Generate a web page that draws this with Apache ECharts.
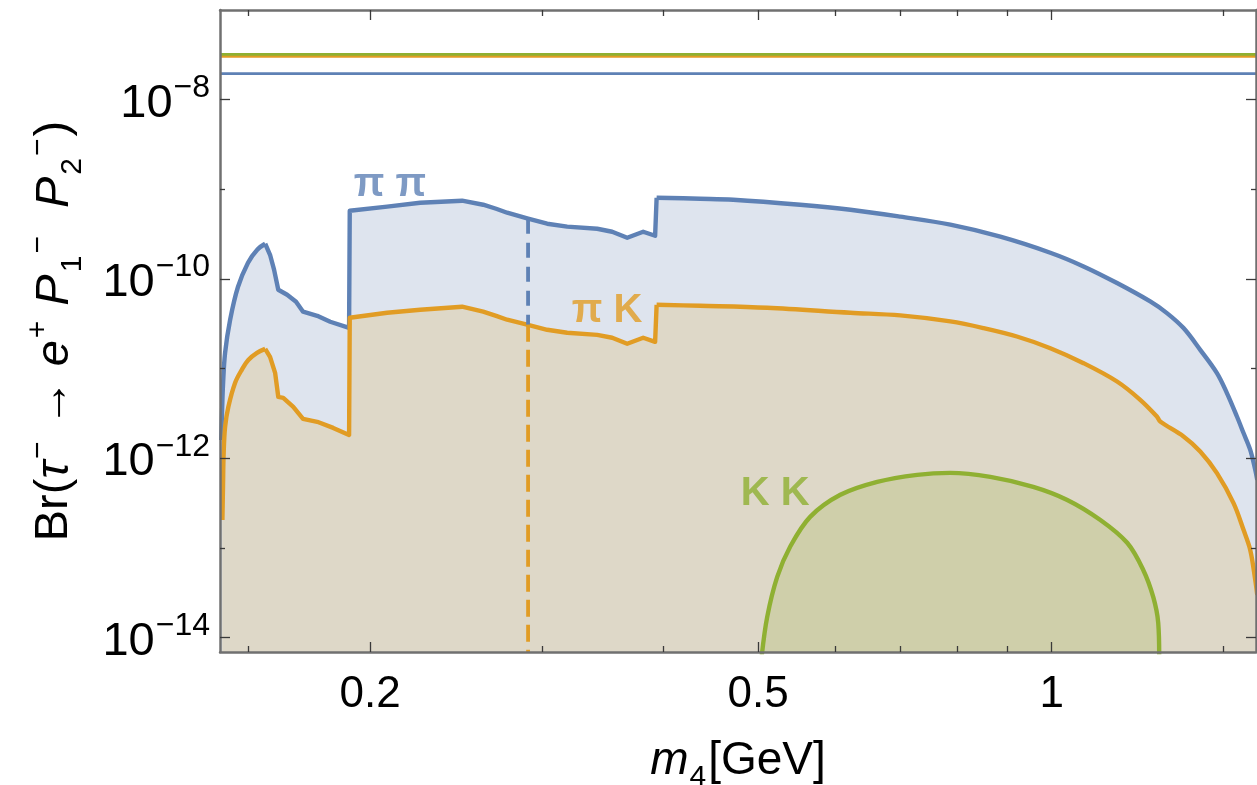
<!DOCTYPE html>
<html>
<head>
<meta charset="utf-8">
<script src="https://cdn.jsdelivr.net/npm/echarts@6/dist/echarts.min.js"></script>
<style>
  html, body { margin: 0; padding: 0; background: #ffffff; }
  #chart { width: 1257px; height: 785px; }
</style>
</head>
<body>
<div id="chart"></div>
<script>
// Branching ratio of tau- -> e+ P1- P2- versus the heavy neutrino mass m4 (GeV)

// pi pi channel
const piPiMass = [0.1407, 0.1410, 0.1413, 0.1420, 0.1437, 0.1464, 0.1499, 0.1532, 0.1561, 0.1579,
  0.1594, 0.1610, 0.1644, 0.1679, 0.1707, 0.1765, 0.1820, 0.1903, 0.1906, 0.1906,
  0.2082, 0.2251, 0.2485, 0.2612, 0.2693, 0.2764, 0.2904, 0.3038, 0.3185, 0.3419,
  0.3542, 0.3670, 0.3811, 0.3920, 0.3934, 0.3934, 0.4360, 0.4714, 0.5521, 0.6216,
  0.6994, 0.7871, 0.8857, 0.9967, 1.0781, 1.1668, 1.2619, 1.3127, 1.3652, 1.4201,
  1.4773, 1.5125, 1.5487, 1.5730, 1.5981, 1.6171, 1.6248];
const piPiBr = [1.60e-12, 3.47e-12, 6.59e-12, 1.50e-11, 3.51e-11, 8.18e-11, 1.52e-10, 2.12e-10, 2.47e-10, 1.86e-10,
  1.27e-10, 7.57e-11, 6.67e-11, 5.57e-11, 4.31e-11, 3.88e-11, 3.33e-11, 2.85e-11, 2.80e-11, 5.77e-10,
  6.40e-10, 7.08e-10, 7.46e-10, 6.73e-10, 6.07e-10, 5.48e-10, 4.70e-10, 4.13e-10, 3.83e-10, 3.63e-10,
  3.36e-10, 2.88e-10, 3.36e-10, 3.03e-10, 3.00e-10, 8.05e-10, 7.85e-10, 7.66e-10, 6.73e-10, 5.92e-10,
  4.95e-10, 4.03e-10, 2.96e-10, 1.96e-10, 1.38e-10, 9.00e-11, 5.61e-11, 4.16e-11, 2.83e-11, 1.62e-11,
  8.91e-12, 5.33e-12, 2.92e-12, 1.91e-12, 1.24e-12, 7.43e-13, 5.74e-13];
// index ranges: smooth rise, kinked middle, smooth tail
const piPiPieces = [[0, 8, true], [8, 35, false], [35, 56, true]];

// pi K channel
const piKMass = [0.1411, 0.1413, 0.1415, 0.1420, 0.1431, 0.1454, 0.1477, 0.1500, 0.1531, 0.1561,
  0.1579, 0.1598, 0.1610, 0.1629, 0.1668, 0.1707, 0.1765, 0.1833, 0.1903, 0.1906,
  0.1906, 0.2082, 0.2251, 0.2485, 0.2612, 0.2693, 0.2764, 0.2904, 0.3038, 0.3185,
  0.3419, 0.3542, 0.3670, 0.3811, 0.3920, 0.3934, 0.3934, 0.4360, 0.5108, 0.6216,
  0.6994, 0.7871, 0.8515, 0.9211, 0.9967, 1.0781, 1.1668, 1.2325, 1.2820, 1.2921,
  1.3652, 1.4201, 1.4773, 1.5363, 1.5730, 1.5981, 1.6171, 1.6248];
const piKBr = [2.05e-13, 4.80e-13, 1.09e-12, 2.24e-12, 3.75e-12, 6.95e-12, 9.70e-12, 1.25e-11, 1.50e-11, 1.66e-11,
  1.35e-11, 8.97e-12, 4.84e-12, 4.72e-12, 3.75e-12, 2.75e-12, 2.55e-12, 2.18e-12, 1.82e-12, 1.80e-12,
  3.69e-11, 4.20e-11, 4.53e-11, 4.90e-11, 4.31e-11, 3.88e-11, 3.51e-11, 3.08e-11, 2.71e-11, 2.51e-11,
  2.38e-11, 2.21e-11, 1.89e-11, 2.21e-11, 1.99e-11, 1.97e-11, 5.15e-11, 5.02e-11, 4.77e-11, 4.20e-11,
  3.92e-11, 3.36e-11, 2.83e-11, 2.28e-11, 1.69e-11, 1.15e-11, 7.18e-12, 4.49e-12, 2.92e-12, 2.57e-12,
  1.75e-12, 1.19e-12, 6.82e-13, 3.16e-13, 1.59e-13, 9.50e-14, 4.40e-14, 2.99e-14];
const piKPieces = [[0, 9, true], [9, 36, false], [36, 57, true]];

// K K channel
const kkMass = [0.5040, 0.5108, 0.5230, 0.5392, 0.5653, 0.6071, 0.6623, 0.7278, 0.7871, 0.8651,
  0.9573, 1.0374, 1.1218, 1.1951, 1.2413, 1.2709, 1.2860, 1.2890];
const kkBr = [6.0e-15, 1.70e-14, 4.75e-14, 1.03e-13, 2.22e-13, 3.91e-13, 5.45e-13, 6.53e-13, 6.87e-13, 6.20e-13,
  4.80e-13, 3.43e-13, 2.05e-13, 1.14e-13, 5.68e-14, 2.84e-14, 1.46e-14, 6.0e-15];
const kkPieces = [[0, 17, true]];

// experimental upper limits: pi pi, pi K, K K
const upperLimits = [1.95e-8, 3.05e-8, 3.2e-8];

// vertical dashed marker position (GeV) and its end points on each curve
const markerMass = 0.2904;
const markerBr = [4.70e-10, 3.08e-11];

// axis ranges and tick values
const xRange = [0.1403, 1.62];
const yRange = [6.9e-15, 1e-7];
const xMajorTicks = [0.2, 0.5, 1];
const xMinorTicks = [0.15, 0.3, 0.4, 0.6, 0.7, 0.8, 0.9, 1.5];
const yMajorTicks = [1e-14, 1e-12, 1e-10, 1e-8];
const yMinorTicks = [1e-13, 1e-11, 1e-9];

// channel labels placed in data coordinates
const channelLabels = [
  { text: 'π π', at: [0.2096, 1.12e-9] },
  { text: 'π K', at: [0.3500, 4.42e-11] },
  { text: 'K K', at: [0.5206, 4.0e-13] }
];

const FONT = '"Liberation Sans", Arial, Helvetica, sans-serif';
const BLUE = '#5E81B5', ORANGE = '#E19C24', GREEN = '#8FB032';
const BLUE_FILL = '#DEE4EE', ORANGE_FILL = '#DED8C8', GREEN_FILL = '#CFCFAA';
const FRAME = '#707070', TICK = '#3a3a3a';
const CURVE_W = 4.4;

const zip = (xs, ys) => xs.map((x, i) => [x, ys[i]]);

// a filled base under the whole curve, then the outline drawn piece by piece
// (with its own fill) so smooth and kinked parts can differ without seams
function curveSeries(xs, ys, pieces, color, fill, z) {
  const pts = zip(xs, ys);
  const base = {
    type: 'line', data: pts, symbol: 'none', clip: true, silent: true, z,
    lineStyle: { width: 0, opacity: 0 },
    areaStyle: { color: fill, opacity: 1, origin: 'start' }
  };
  const parts = pieces.map(([a, b, smooth]) => ({
    type: 'line', data: pts.slice(a, b + 1), symbol: 'none', clip: true, silent: true, z,
    smooth: smooth ? 0.35 : false,
    lineStyle: { color, width: CURVE_W, join: 'round', cap: 'butt' },
    areaStyle: { color: fill, opacity: 1, origin: 'start' }
  }));
  return [base, ...parts];
}

function baseX(extra) {
  return Object.assign({
    type: 'log', logBase: 10, min: xRange[0], max: xRange[1], gridIndex: 0, z: 6,
    splitLine: { show: false }, axisLabel: { show: false },
    axisLine: { show: false }
  }, extra);
}
function baseY(extra) {
  return Object.assign({
    type: 'log', logBase: 10, min: yRange[0], max: yRange[1], gridIndex: 0, z: 6,
    splitLine: { show: false }, axisLabel: { show: false },
    axisLine: { show: false }
  }, extra);
}
const frameLine = { show: true, onZero: false, lineStyle: { color: FRAME, width: 2.5 } };
const tick = (values, len) => ({ show: true, inside: true, length: len, customValues: values,
  lineStyle: { color: TICK, width: 1.3 } });

const xLabelFmt = v => String(Number(v.toPrecision(3)));
const yLabelFmt = v => '{b|10}{s|−' + Math.abs(Math.round(Math.log10(v))) + '}';

const option = {
  animation: false,
  backgroundColor: '#ffffff',
  textStyle: { fontFamily: FONT },
  grid: { left: 220, right: 1, top: 10, bottom: 133, containLabel: false, outerBoundsMode: 'none' },
  xAxis: [
    baseX({
      position: 'bottom', axisLine: frameLine, axisTick: tick(xMajorTicks, 10),
      axisLabel: { show: true, customValues: xMajorTicks, formatter: xLabelFmt, margin: 21,
        fontSize: 44, color: '#000', fontFamily: FONT },
      name: '{i|m}{sub|4}{n|[GeV]}', nameLocation: 'middle', nameGap: 86,
      nameTextStyle: {
        fontFamily: FONT, color: '#000',
        rich: {
          i: { fontSize: 46, fontStyle: 'italic', fontFamily: FONT, verticalAlign: 'bottom', padding: [0, 0, 9, 0] },
          sub: { fontSize: 30, fontFamily: FONT, verticalAlign: 'bottom', padding: [0, 2, 0, 1] },
          n: { fontSize: 46, fontFamily: FONT, verticalAlign: 'bottom', padding: [0, 0, 9, 0] }
        }
      }
    }),
    baseX({ position: 'bottom', axisTick: tick(xMinorTicks, 6) }),
    baseX({ position: 'top', axisLine: frameLine, axisTick: tick(xMajorTicks, 10) }),
    baseX({ position: 'top', axisTick: tick(xMinorTicks, 6) })
  ],
  yAxis: [
    baseY({
      position: 'left', axisLine: frameLine, axisTick: tick(yMajorTicks, 10),
      axisLabel: {
        show: true, customValues: yMajorTicks, formatter: yLabelFmt, margin: 10, color: '#000',
        rich: {
          b: { fontSize: 47, fontFamily: FONT, color: '#000', verticalAlign: 'bottom' },
          s: { fontSize: 32, fontFamily: FONT, color: '#000', verticalAlign: 'bottom', padding: [0, 0, 23, 1] }
        }
      },
      name: '{n|Br(}{i|τ}{sp|−}{n| → }{i|e}{sp|+}{n| }{i|P}{sb|1}{sp|−}{n|  }{i|P}{sb|2}{sp|−}{n|)}',
      nameLocation: 'middle', nameGap: 132, nameRotate: 90,
      nameTextStyle: {
        fontFamily: FONT, color: '#000',
        rich: {
          n: { fontSize: 47, fontFamily: FONT, verticalAlign: 'bottom', padding: [0, 0, 10, 0] },
          i: { fontSize: 47, fontFamily: FONT, fontStyle: 'italic', verticalAlign: 'bottom', padding: [0, 0, 10, 0] },
          sp: { fontSize: 30, fontFamily: FONT, verticalAlign: 'bottom', padding: [0, 2, 34, 2] },
          sb: { fontSize: 30, fontFamily: FONT, verticalAlign: 'bottom', padding: [0, 0, 0, 2] }
        }
      }
    }),
    baseY({ position: 'left', axisTick: tick(yMinorTicks, 5) }),
    baseY({ position: 'right', axisLine: frameLine, axisTick: tick(yMajorTicks, 10) }),
    baseY({ position: 'right', axisTick: tick(yMinorTicks, 5) })
  ],
  series: [
    ...curveSeries(piPiMass, piPiBr, piPiPieces, BLUE, BLUE_FILL, 2),
    ...curveSeries(piKMass, piKBr, piKPieces, ORANGE, ORANGE_FILL, 3),
    ...curveSeries(kkMass, kkBr, kkPieces, GREEN, GREEN_FILL, 4),
    {
      type: 'line', data: [[markerMass, markerBr[0]], [markerMass, markerBr[1]]], symbol: 'none', silent: true, z: 4,
      lineStyle: { color: BLUE, width: 3.8, type: [15, 9], cap: 'butt' }
    },
    {
      type: 'line', data: [[markerMass, markerBr[1]], [markerMass, yRange[0]]], symbol: 'none', silent: true, z: 4,
      lineStyle: { color: ORANGE, width: 3.8, type: [17, 8], cap: 'butt' }
    },
    ...[BLUE, ORANGE, GREEN].map((c, i) => ({
      type: 'line', data: [[xRange[0], upperLimits[i]], [xRange[1], upperLimits[i]]],
      symbol: 'none', silent: true, z: 4 + i * 0.1,
      lineStyle: { color: c, width: 2.8 }
    })),
    {
      type: 'scatter', symbolSize: 0, silent: true, z: 5,
      data: channelLabels.map((l, i) => ({
        value: l.at,
        label: { show: true, position: 'inside', formatter: l.text, fontSize: 40, fontWeight: 'bold',
          fontFamily: FONT, color: [BLUE, ORANGE, GREEN][i] }
      }))
    }
  ]
};

const chart = echarts.init(document.getElementById('chart'), null, { renderer: 'canvas' });
chart.setOption(option);
</script>
</body>
</html>
